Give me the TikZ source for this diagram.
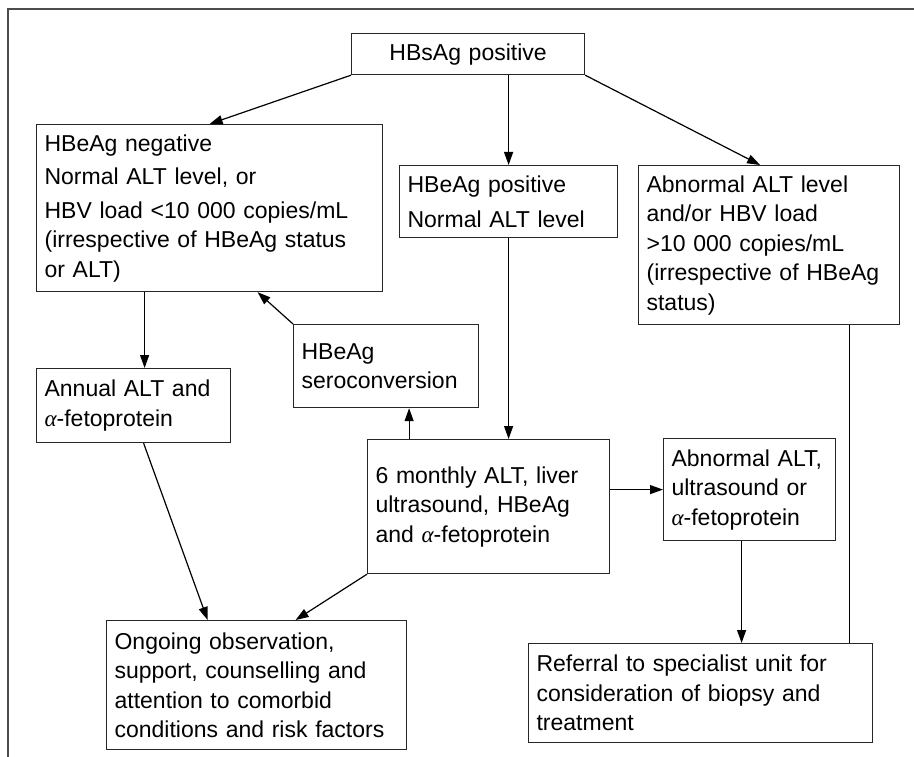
\documentclass[tikz,border=0pt]{standalone}
\usepackage{amsmath,amssymb}
\usepackage{fontspec}
\setmainfont{Liberation Sans}
\newfontfamily\greekfont{Liberation Serif}
\newcommand{\alphaup}{{\greekfont\itshape α}}
\usetikzlibrary{arrows.meta}

\begin{document}
\begin{tikzpicture}[x=1pt,y=-1pt,line width=1.2pt,>={Triangle[length=13pt,width=9pt]},
        box/.style={draw=black!85,anchor=north west,align=left,inner xsep=8pt,inner ysep=0pt,
            font=\fontsize{23}{29.5}\selectfont},
        frame/.style={draw=black!70,line width=2.2pt}]
        \useasboundingbox (0,0) rectangle (914,757);

        % outer frame
        \draw[frame] (8,757) -- (8,9) -- (914,9);

        \node[box,align=center,text width=217pt,minimum height=41pt] (top) at (351,33) {HBsAg positive};

        \node[box,text width=330pt,minimum height=167pt] (neg) at (36,124)
            {HBeAg negative\\[4pt] Normal ALT level, or\\[4pt] HBV load <10~000 copies/mL\\ (irrespective of HBeAg status\\ or ALT)};
        \node[box,text width=202pt,minimum height=72pt] (pos) at (399,165)
            {HBeAg positive\\[6pt] Normal ALT level};
        \node[box,text width=245pt,minimum height=159pt] (abn) at (638,165)
            {Abnormal ALT level\\ and/or HBV load\\ >10~000 copies/mL\\ (irrespective of HBeAg\\ status)};

        \node[box,text width=169pt,minimum height=83pt] (sero) at (293,324)
            {HBeAg\\ seroconversion};
        \node[box,text width=178pt,minimum height=74pt] (annual) at (36,368)
            {Annual ALT and\\ \alphaup-fetoprotein};
        \node[box,text width=226pt,minimum height=134pt] (six) at (367,439)
            {6 monthly ALT, liver\\ ultrasound, HBeAg\\ and \alphaup-fetoprotein};
        \node[box,text width=156pt,minimum height=102pt] (abnus) at (663,438)
            {Abnormal ALT,\\ ultrasound or\\ \alphaup-fetoprotein};

        \node[box,text width=284pt,minimum height=129pt] (ongoing) at (106,620)
            {Ongoing observation,\\ support, counselling and\\ attention to comorbid\\ conditions and risk factors};
        \node[box,text width=328pt,minimum height=99pt] (ref) at (528,643)
            {Referral to specialist unit for\\ consideration of biopsy and\\ treatment};

        \draw[->] (top.south west) -- (neg.north);
        \draw[->] (top.south -| pos.north) -- (pos.north);
        \draw[->] (top.south east) -- ([xshift=-9pt]abn.north);
        \draw[->] ([xshift=11pt]annual.north |- neg.south) -- ([xshift=11pt]annual.north);
        \draw[->] (sero.north west) -- ([xshift=48pt]neg.south);
        \draw[->] (pos.south) -- (pos.south |- six.north);
        \draw[->] ([xshift=23pt]sero.south |- six.north) -- ([xshift=23pt]sero.south);
        \draw[->] (six.east |- abnus.west) -- (abnus.west);
        \draw[->] ([xshift=-8pt]abnus.south) -- ([xshift=-8pt]abnus.south |- ref.north);
        \draw ([xshift=80pt]abn.south) -- ([xshift=80pt]abn.south |- ref.north);
        \draw[->] ([xshift=10pt]annual.south) -- ([xshift=-49pt]ongoing.north);
        \draw[->] (six.south west) -- ([xshift=39pt]ongoing.north);

    \end{tikzpicture}
\end{document}
